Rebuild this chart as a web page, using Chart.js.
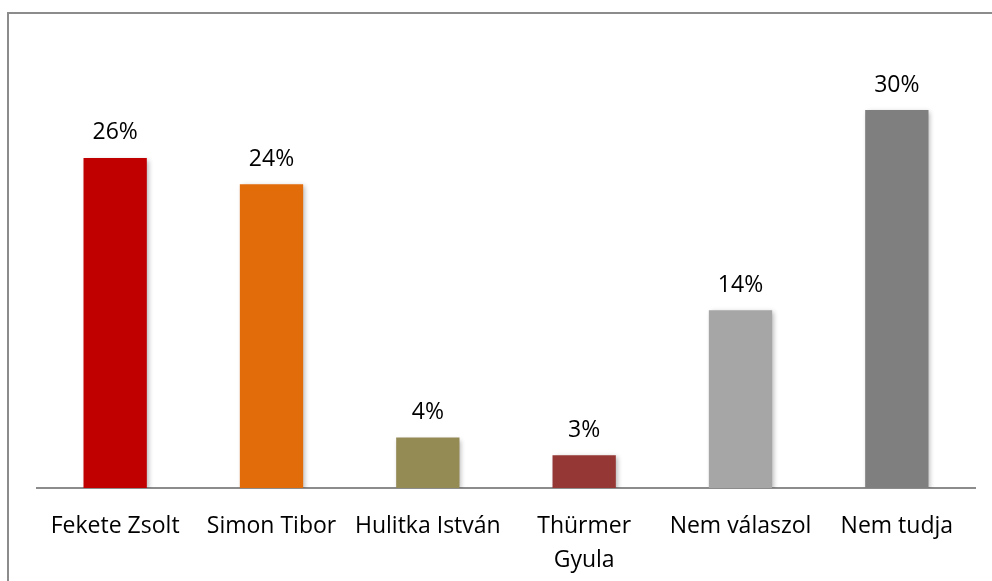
<!DOCTYPE html>
<html>
<head>
<meta charset="utf-8">
<script src="https://cdn.jsdelivr.net/npm/chart.js@4.4.0/dist/chart.umd.min.js"></script>
<style>
  html, body { margin: 0; padding: 0; background: #fff; overflow: hidden; }
  #wrap { position: relative; width: 992px; height: 581px; }
  #frame { position: absolute; left: 7px; top: 12px; width: 1000px; height: 600px; border: 2px solid #8c8c8c; }
  #myChart { position: absolute; left: 0; top: 0; }
</style>
</head>
<body>
<div id="wrap">
  <div id="frame"></div>
  <canvas id="myChart" width="992" height="581"></canvas>
</div>
<script>
// Chart data
const categories = ['Fekete Zsolt', 'Simon Tibor', 'Hulitka István', ['Thürmer', 'Gyula'], 'Nem válaszol', 'Nem tudja'];
const shares = [26.2, 24.1, 4.0, 2.6, 14.1, 30.0];
const barColors = ['#C00000', '#E36C0A', '#948A54', '#953735', '#A6A6A6', '#7F7F7F'];

const fontFamily = '"Open Sans", "DejaVu Sans", sans-serif';

// draws the percentage labels above each bar
const valueLabels = {
    id: 'valueLabels',
    afterDatasetsDraw(chart) {
        const ctx = chart.ctx;
        const meta = chart.getDatasetMeta(0);
        ctx.save();
        ctx.font = '23px ' + fontFamily;
        ctx.fillStyle = '#000';
        ctx.textAlign = 'center';
        ctx.textBaseline = 'middle';
        meta.data.forEach((bar, i) => {
            ctx.fillText(Math.round(shares[i]) + '%', bar.x, bar.y - 25);
        });
        ctx.restore();
    }
};

// soft shadow under the bars
const barShadow = {
    id: 'barShadow',
    beforeDatasetsDraw(chart) {
        const ctx = chart.ctx;
        ctx.save();
        ctx.shadowColor = 'rgba(0, 0, 0, 0.3)';
        ctx.shadowBlur = 5;
        ctx.shadowOffsetX = 2;
        ctx.shadowOffsetY = 2;
    },
    afterDatasetsDraw(chart) {
        chart.ctx.restore();
    }
};

const ctx = document.getElementById('myChart').getContext('2d');

const myChart = new Chart(ctx, {
    type: 'bar',
    data: {
        labels: categories,
        datasets: [{
            data: shares,
            backgroundColor: barColors,
            borderWidth: 0,
            barPercentage: 0.81,
            categoryPercentage: 0.5
        }]
    },
    options: {
        responsive: false,
        animation: false,
        layout: {
            padding: { top: 47, left: 37, right: 17, bottom: 0 }
        },
        plugins: {
            legend: { display: false },
            tooltip: { enabled: false }
        },
        scales: {
            x: {
                grid: { display: false },
                border: { display: true, color: '#8c8c8c', width: 2 },
                afterFit(scale) { scale.height = 93; },
                ticks: {
                    color: '#000',
                    padding: 13,
                    maxRotation: 0,
                    autoSkip: false,
                    font: { family: fontFamily, size: 23, lineHeight: 1.48 }
                }
            },
            y: {
                display: false,
                min: 0,
                max: 35
            }
        }
    },
    plugins: [barShadow, valueLabels]
});
</script>
</body>
</html>
